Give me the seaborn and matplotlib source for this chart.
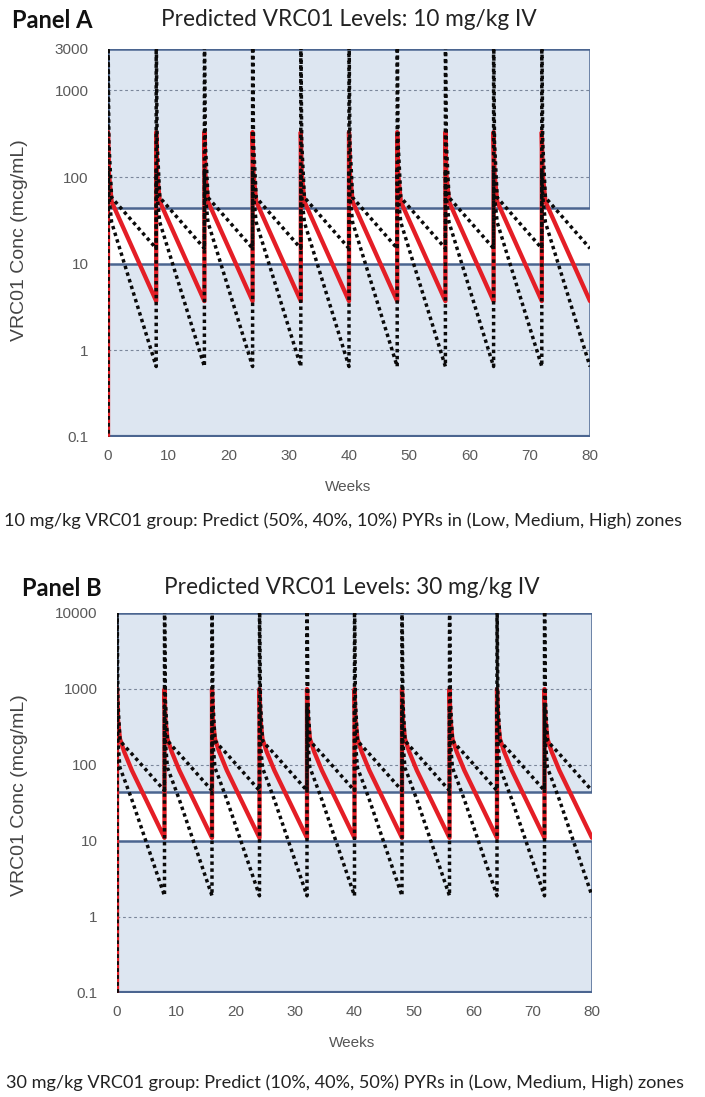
import matplotlib
matplotlib.use("Agg")
import matplotlib.pyplot as plt
import pandas as pd
import seaborn as sns

# --- DATA ---
dose_weeks = [0, 8, 16, 24, 32, 40, 48, 56, 64, 72]
zone_low = 10     # Low / Medium boundary, mcg/mL
zone_high = 44    # Medium / High boundary, mcg/mL

# one dosing interval: weeks after dose -> conc (mcg/mL)
a_prof_weeks = [0, 0.15, 0.6, 8]
a_median = [330, 110, 52, 3.7]
a_upper = [6000, 250, 58, 15]
a_lower = [120, 60, 30, 0.65]

b_prof_weeks = [0, 0.15, 0.5, 1.2, 2.5, 8]
b_median = [1000, 400, 220, 150, 85, 11]
b_upper = [20000, 700, 210, 180, 140, 46]
b_lower = [600, 200, 92, 66, 35, 1.9]

x_ticks = [0, 10, 20, 30, 40, 50, 60, 70, 80]
a_yticks = [0.1, 1, 10, 100, 1000, 3000]
a_ylabels = ["0.1", "1", "10", "100", "1000", "3000"]
b_yticks = [0.1, 1, 10, 100, 1000, 10000]
b_ylabels = ["0.1", "1", "10", "100", "1000", "10000"]
a_grid = [1, 100, 1000]
b_grid = [1, 100, 1000]

a_title = "Predicted VRC01 Levels: 10 mg/kg IV"
b_title = "Predicted VRC01 Levels: 30 mg/kg IV"
a_caption = "10 mg/kg VRC01 group: Predict (50%, 40%, 10%) PYRs in (Low, Medium, High) zones"
b_caption = "30 mg/kg VRC01 group: Predict (10%, 40%, 50%) PYRs in (Low, Medium, High) zones"

# --- STYLE ---
FILL = "#dde6f1"
EDGE = "#4b6590"
RED = "#e41e26"
DOT = "#0a0a0a"
GRID = "#7a869a"
TICKC = "#5a5a5a"

sns.set_style("white")
plt.rcParams["font.family"] = ["Liberation Sans", "DejaVu Sans"]


def build(prof_weeks, prof_vals):
    # repeat the one-interval profile at each dose
    t, c = [0.0], [0.01]
    for d in dose_weeks:
        for w, v in zip(prof_weeks, prof_vals):
            t.append(d + w)
            c.append(v)
    return pd.DataFrame({"week": t, "conc": c})


def draw_panel(ax, weeks, med, up, lo, ymax, yticks, ylabels, grid):
    ax.set_yscale("log")
    ax.set_xlim(0, 80)
    ax.set_ylim(0.1, ymax)
    ax.axhspan(zone_high, ymax, facecolor=FILL, edgecolor=EDGE, lw=1.8, zorder=1)
    ax.axhspan(0.1, zone_low, facecolor=FILL, edgecolor=EDGE, lw=1.8, zorder=1)
    ax.axhline(0.1, color=EDGE, lw=3, zorder=1.2)
    for g in grid:
        ax.axhline(g, color=GRID, lw=0.8, ls=(0, (2.5, 2.5)), zorder=1.5)

    sns.lineplot(data=build(weeks, med), x="week", y="conc", sort=False,
                 estimator=None, color=RED, lw=3.1, ax=ax, zorder=3)
    for prof in (up, lo):
        sns.lineplot(data=build(weeks, prof), x="week", y="conc", sort=False,
                     estimator=None, color=DOT, lw=2.5,
                     linestyle=(0, (1.0, 1.0)), ax=ax, zorder=4)

    for s in ax.spines.values():
        s.set_visible(False)
    ax.set_xticks(x_ticks)
    ax.set_xticks(range(5, 80, 10), minor=True)
    ax.set_xticklabels([str(x) for x in x_ticks])
    ax.set_yticks(yticks)
    ax.set_yticklabels(ylabels)
    ax.yaxis.set_minor_locator(matplotlib.ticker.NullLocator())
    ax.tick_params(axis="x", which="major", direction="in", length=7, width=1.3,
                   color=EDGE, labelsize=11, labelcolor=TICKC, pad=9)
    ax.tick_params(axis="x", which="minor", direction="in", length=4, width=1.1,
                   color=EDGE)
    ax.tick_params(axis="y", length=0, labelsize=11, labelcolor=TICKC, pad=14)
    ax.set_xlabel("")
    ax.set_ylabel("")
    ax.grid(False)


W, H = 705, 1097
fig = plt.figure(figsize=(W / 100, H / 100), dpi=100)

ax_a = fig.add_axes([108 / W, 1 - 437 / H, 482 / W, 388 / H])
draw_panel(ax_a, a_prof_weeks, a_median, a_upper, a_lower, 3000,
           a_yticks, a_ylabels, a_grid)
ax_b = fig.add_axes([117 / W, 1 - 993 / H, 475 / W, 380 / H])
draw_panel(ax_b, b_prof_weeks, b_median, b_upper, b_lower, 10000,
           b_yticks, b_ylabels, b_grid)

head = ["Lato", "DejaVu Sans"]
fig.text(12 / W, 1 - 20 / H, "Panel A", family=head, fontsize=17,
         fontweight="bold", va="center", ha="left", color="#111")
fig.text(349 / W, 1 - 20 / H, a_title, family=head, fontsize=16.3,
         va="center", ha="center", color="#222")
fig.text(22 / W, 1 - 588 / H, "Panel B", family=head, fontsize=17,
         fontweight="bold", va="center", ha="left", color="#111")
fig.text(352 / W, 1 - 588 / H, b_title, family=head, fontsize=16.3,
         va="center", ha="center", color="#222")

fig.text(20 / W, 1 - 240 / H, "VRC01 Conc (mcg/mL)", rotation=90, fontsize=14,
         va="center", ha="center", color="#444")
fig.text(20 / W, 1 - 795 / H, "VRC01 Conc (mcg/mL)", rotation=90, fontsize=14,
         va="center", ha="center", color="#444")
fig.text(348 / W, 1 - 487 / H, "Weeks", fontsize=11, va="center", ha="center",
         color="#555")
fig.text(352 / W, 1 - 1043 / H, "Weeks", fontsize=11, va="center", ha="center",
         color="#555")

fig.text(4 / W, 1 - 521 / H, a_caption, family=head, fontsize=13.1,
         va="center", ha="left", color="#222")
fig.text(6 / W, 1 - 1083 / H, b_caption, family=head, fontsize=13.1,
         va="center", ha="left", color="#222")

fig.savefig("out.png", dpi=100)
